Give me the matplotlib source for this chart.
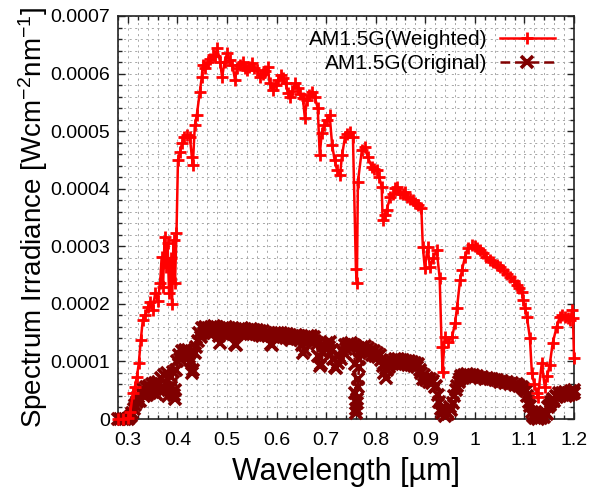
import matplotlib
matplotlib.use("Agg")
import matplotlib.pyplot as plt
from matplotlib.ticker import MultipleLocator, FuncFormatter
import numpy as np

plt.rcParams['font.family'] = ['Liberation Sans', 'DejaVu Sans']
plt.rcParams['mathtext.default'] = 'regular'
plt.rcParams['lines.scale_dashes'] = False

# ---- Data (wavelength in um, irradiance in 1e-4 W cm^-2 nm^-1) ----
weighted_wl = [0.280, 0.290, 0.300, 0.305, 0.310, 0.314, 0.318, 0.322, 0.326, 0.330,
               0.335, 0.340, 0.345, 0.350, 0.355, 0.360, 0.365, 0.368, 0.371, 0.374,
               0.377, 0.380, 0.383, 0.386, 0.389, 0.392, 0.395, 0.398, 0.401, 0.405,
               0.409, 0.414, 0.419, 0.425, 0.429, 0.431, 0.435, 0.439, 0.445, 0.449,
               0.451, 0.456, 0.461, 0.466, 0.471, 0.476, 0.480, 0.486, 0.490, 0.495,
               0.500, 0.506, 0.511, 0.516, 0.520, 0.526, 0.532, 0.536, 0.540, 0.545,
               0.550, 0.555, 0.560, 0.566, 0.572, 0.577, 0.582, 0.586, 0.593, 0.598,
               0.603, 0.608, 0.613, 0.618, 0.623, 0.627, 0.632, 0.637, 0.643, 0.648,
               0.653, 0.657, 0.661, 0.666, 0.671, 0.677, 0.683, 0.687, 0.691, 0.696,
               0.701, 0.707, 0.712, 0.717, 0.722, 0.728, 0.732, 0.738, 0.743, 0.748,
               0.754, 0.760, 0.762, 0.764, 0.772, 0.778, 0.784, 0.792, 0.797, 0.802,
               0.807, 0.812, 0.814, 0.818, 0.822, 0.829, 0.835, 0.839, 0.843, 0.849,
               0.854, 0.859, 0.863, 0.869, 0.875, 0.880, 0.886, 0.892, 0.895, 0.899,
               0.905, 0.909, 0.916, 0.923, 0.929, 0.933, 0.935, 0.939, 0.946, 0.954,
               0.960, 0.964, 0.970, 0.974, 0.980, 0.986, 0.994, 1.000, 1.004, 1.010,
               1.016, 1.023, 1.030, 1.037, 1.044, 1.050, 1.057, 1.064, 1.071, 1.078,
               1.085, 1.090, 1.095, 1.097, 1.101, 1.105, 1.111, 1.115, 1.120, 1.125,
               1.127, 1.135, 1.141, 1.146, 1.151, 1.157, 1.165, 1.171, 1.176, 1.182,
               1.187, 1.192, 1.196, 1.198, 1.200]
weighted_val = [0.00, 0.00, 0.01, 0.12, 0.45, 0.56, 0.73, 0.97, 1.37, 1.72,
                1.80, 1.94, 2.03, 1.90, 2.19, 2.05, 2.36, 2.81, 2.30, 3.16,
                2.64, 3.06, 2.19, 2.80, 2.00, 3.11, 2.36, 3.23, 4.50, 4.63,
                4.79, 4.90, 4.93, 4.90, 4.55, 4.41, 5.10, 5.28, 5.68, 5.94,
                6.15, 6.10, 6.20, 6.25, 6.32, 6.30, 6.44, 6.20, 5.94, 6.20,
                6.35, 6.23, 6.15, 5.89, 6.09, 6.15, 6.20, 6.10, 6.06, 6.12,
                6.18, 6.10, 6.06, 5.94, 6.00, 6.05, 6.11, 5.83, 5.71, 5.80,
                5.89, 5.97, 5.92, 5.83, 5.66, 5.59, 5.70, 5.83, 5.75, 5.65,
                5.57, 5.23, 5.54, 5.62, 5.68, 5.59, 5.40, 4.58, 4.97, 5.10,
                5.19, 5.28, 4.76, 4.50, 4.32, 4.24, 4.58, 4.90, 4.95, 4.98,
                4.90, 2.60, 2.36, 4.12, 4.67, 4.72, 4.55, 4.38, 4.35, 4.32,
                4.20, 4.03, 3.45, 3.55, 3.63, 3.85, 3.90, 4.01, 4.03, 3.92,
                3.90, 3.94, 3.85, 3.82, 3.80, 3.75, 3.72, 3.66, 2.99, 2.62,
                2.99, 2.64, 2.80, 2.93, 2.45, 1.25, 0.82, 1.42, 1.34, 1.42,
                1.67, 1.93, 2.41, 2.59, 2.81, 2.97, 3.02, 3.00, 2.97, 2.93,
                2.88, 2.82, 2.76, 2.72, 2.67, 2.64, 2.58, 2.52, 2.47, 2.40,
                2.33, 2.27, 2.20, 2.07, 1.93, 1.77, 1.41, 0.80, 0.60, 0.45,
                0.38, 0.97, 0.56, 0.75, 0.94, 1.32, 1.60, 1.77, 1.80, 1.77,
                1.75, 1.72, 1.89, 1.75, 1.06]

original_nm = [280, 285, 290, 295, 300, 303, 306, 309, 312, 315, 318, 321, 324, 327, 330,
               333, 336, 339, 342, 345, 348, 351, 354, 357, 360, 363, 366, 369, 372, 375,
               378, 381, 384, 387, 390, 392, 394, 396, 398, 400, 403, 406, 409, 412, 415,
               418, 421, 424, 427, 430, 432, 435, 438, 441, 444, 447, 450, 453, 456, 459,
               462, 465, 468, 471, 474, 477, 480, 483, 486, 489, 492, 495, 498, 501, 504,
               507, 510, 513, 516, 519, 522, 525, 528, 531, 534, 537, 540, 543, 546, 549,
               552, 555, 558, 561, 564, 567, 570, 573, 576, 579, 582, 585, 588, 591, 594,
               597, 600, 603, 606, 609, 612, 615, 618, 621, 624, 627, 630, 633, 636, 639,
               642, 645, 648, 651, 654, 657, 660, 663, 666, 669, 672, 675, 678, 681, 684,
               687, 690, 693, 696, 699, 702, 705, 708, 711, 714, 717, 720, 723, 726, 729,
               732, 735, 738, 741, 744, 747, 750, 753, 756, 758, 759, 760, 761, 762, 763,
               764, 765, 766, 767, 769, 772, 775, 778, 781, 784, 787, 790, 793, 796, 799,
               802, 805, 808, 811, 814, 817, 820, 823, 826, 829, 832, 835, 838, 841, 844,
               847, 850, 853, 856, 859, 862, 865, 868, 871, 874, 877, 880, 883, 886, 889,
               892, 895, 898, 901, 904, 907, 910, 913, 916, 919, 922, 925, 928, 931, 934,
               937, 940, 943, 946, 949, 952, 955, 958, 961, 964, 967, 970, 973, 976, 979,
               982, 985, 988, 991, 994, 997, 1000, 1005, 1010, 1015, 1020, 1025, 1030, 1035, 1040,
               1045, 1050, 1055, 1060, 1065, 1070, 1075, 1080, 1085, 1090, 1095, 1100, 1103, 1106, 1109,
               1112, 1115, 1118, 1121, 1124, 1127, 1130, 1133, 1136, 1139, 1142, 1145, 1148, 1151, 1154,
               1157, 1160, 1163, 1166, 1169, 1172, 1175, 1178, 1181, 1184, 1187, 1190, 1193, 1196, 1199,
               1200]
original_val = [0.00, 0.00, 0.00, 0.00, 0.00, 0.01, 0.05, 0.10, 0.18, 0.25, 0.30, 0.38, 0.32, 0.45, 0.52,
                0.40, 0.55, 0.42, 0.58, 0.45, 0.60, 0.47, 0.62, 0.44, 0.65, 0.50, 0.72, 0.55, 0.76, 0.52,
                0.80, 0.40, 0.74, 0.55, 0.82, 0.42, 0.35, 0.50, 0.85, 1.00, 1.12, 1.05, 1.18, 1.10, 1.20,
                1.12, 1.20, 1.08, 1.00, 0.80, 0.85, 1.15, 1.25, 1.35, 1.50, 1.42, 1.58, 1.50, 1.60, 1.52,
                1.58, 1.48, 1.60, 1.50, 1.62, 1.55, 1.60, 1.45, 1.32, 1.52, 1.58, 1.50, 1.60, 1.52, 1.58,
                1.50, 1.56, 1.48, 1.30, 1.28, 1.50, 1.56, 1.48, 1.58, 1.50, 1.56, 1.48, 1.55, 1.50, 1.57,
                1.48, 1.55, 1.47, 1.54, 1.46, 1.53, 1.45, 1.52, 1.46, 1.50, 1.44, 1.50, 1.30, 1.28, 1.45,
                1.50, 1.44, 1.50, 1.43, 1.49, 1.42, 1.48, 1.41, 1.47, 1.40, 1.46, 1.38, 1.45, 1.40, 1.46,
                1.39, 1.44, 1.37, 1.28, 1.15, 1.20, 1.40, 1.45, 1.38, 1.44, 1.37, 1.42, 1.35, 1.30, 1.10,
                0.92, 0.95, 1.15, 1.28, 1.22, 1.32, 1.25, 1.33, 1.20, 1.05, 0.90, 0.88, 0.98, 1.10, 1.05,
                1.20, 1.15, 1.28, 1.22, 1.30, 1.25, 1.32, 1.26, 1.28, 0.95, 0.45, 0.10, 0.18, 0.35, 0.28,
                0.55, 0.70, 0.90, 1.05, 1.18, 1.25, 1.20, 1.27, 1.18, 1.24, 1.15, 1.20, 1.12, 1.18, 1.10,
                1.15, 1.07, 1.12, 1.02, 0.92, 0.80, 0.72, 0.85, 0.90, 0.95, 1.00, 0.97, 1.04, 1.00, 1.05,
                0.98, 1.03, 0.96, 1.02, 0.95, 1.01, 0.94, 1.00, 0.93, 0.99, 0.92, 0.97, 0.90, 0.95, 0.85,
                0.80, 0.70, 0.76, 0.68, 0.72, 0.65, 0.70, 0.62, 0.66, 0.55, 0.58, 0.42, 0.30, 0.18, 0.10,
                0.15, 0.05, 0.12, 0.08, 0.20, 0.15, 0.28, 0.40, 0.50, 0.58, 0.65, 0.70, 0.75, 0.72, 0.77,
                0.74, 0.78, 0.75, 0.77, 0.74, 0.76, 0.73, 0.75, 0.72, 0.73, 0.70, 0.72, 0.69, 0.70, 0.67,
                0.68, 0.65, 0.66, 0.63, 0.64, 0.61, 0.62, 0.59, 0.60, 0.57, 0.56, 0.52, 0.48, 0.40, 0.30,
                0.22, 0.12, 0.05, 0.02, 0.08, 0.00, 0.05, 0.02, 0.10, 0.04, 0.12, 0.08, 0.20, 0.25, 0.30,
                0.35, 0.32, 0.40, 0.38, 0.45, 0.40, 0.46, 0.42, 0.47, 0.40, 0.46, 0.42, 0.48, 0.44, 0.50,
                0.45]

x_ticks = [0.3, 0.4, 0.5, 0.6, 0.7, 0.8, 0.9, 1.0, 1.1, 1.2]
y_ticks = [0, 0.0001, 0.0002, 0.0003, 0.0004, 0.0005, 0.0006, 0.0007]

wl_w = np.array(weighted_wl)
val_w = np.array(weighted_val) * 1e-4
wl_o = np.array(original_nm) / 1000.0
val_o = np.array(original_val) * 1e-4

fig = plt.figure(figsize=(5.91, 4.90), dpi=100)
ax = fig.add_axes([118/591, 1 - 419/490, (574-118)/591, (419-16)/490])

red = '#ff0000'
dred = '#800000'

l_o, = ax.plot(wl_o, val_o, color=dred, linestyle=(0, (7, 3.5)), lw=1.8,
               marker='x', markersize=8.5, markeredgewidth=2.6,
               label='AM1.5G(Original)', zorder=3, clip_on=False)
l_w, = ax.plot(wl_w, val_w, color=red, lw=1.8, marker='+', markersize=9,
               markeredgewidth=2.0, label='AM1.5G(Weighted)', zorder=4, clip_on=False)

ax.set_xlim(0.28, 1.2)
ax.set_ylim(0, 0.0007)
ax.set_xticks(x_ticks)
ax.set_yticks(y_ticks)
ax.xaxis.set_minor_locator(MultipleLocator(0.02))
ax.yaxis.set_minor_locator(MultipleLocator(0.00002))
ax.xaxis.set_major_formatter(FuncFormatter(lambda v, p: '%g' % round(v, 2)))
ax.yaxis.set_major_formatter(FuncFormatter(lambda v, p: '0' if abs(v) < 1e-12 else '%.4f' % v))

ax.tick_params(which='both', direction='in', top=True, right=True, width=1.0, color='#222222')
ax.tick_params(which='major', length=5, labelsize=14, pad=6)
ax.tick_params(which='minor', length=3)
ax.tick_params(axis='x', which='major', pad=9)

ax.grid(which='both', color='#a8a8a8', linestyle=(0, (1.5, 2.5)), lw=0.7)
ax.set_axisbelow(True)
for s in ax.spines.values():
    s.set_linewidth(1.2)
    s.set_color('#222222')

ax.set_xlabel('Wavelength [µm]', fontsize=22, labelpad=6)
ax.set_ylabel('Spectrum Irradiance [Wcm$^{-2}$nm$^{-1}$]', fontsize=20, labelpad=0)

leg = ax.legend(handles=[l_w, l_o], loc='upper right', bbox_to_anchor=(0.958, 0.965),
                frameon=False, fontsize=15, markerfirst=False, handlelength=2.65,
                handletextpad=0.58, labelspacing=0.25, borderpad=0, borderaxespad=0,
                numpoints=1)

fig.savefig('out.png', dpi=100)
